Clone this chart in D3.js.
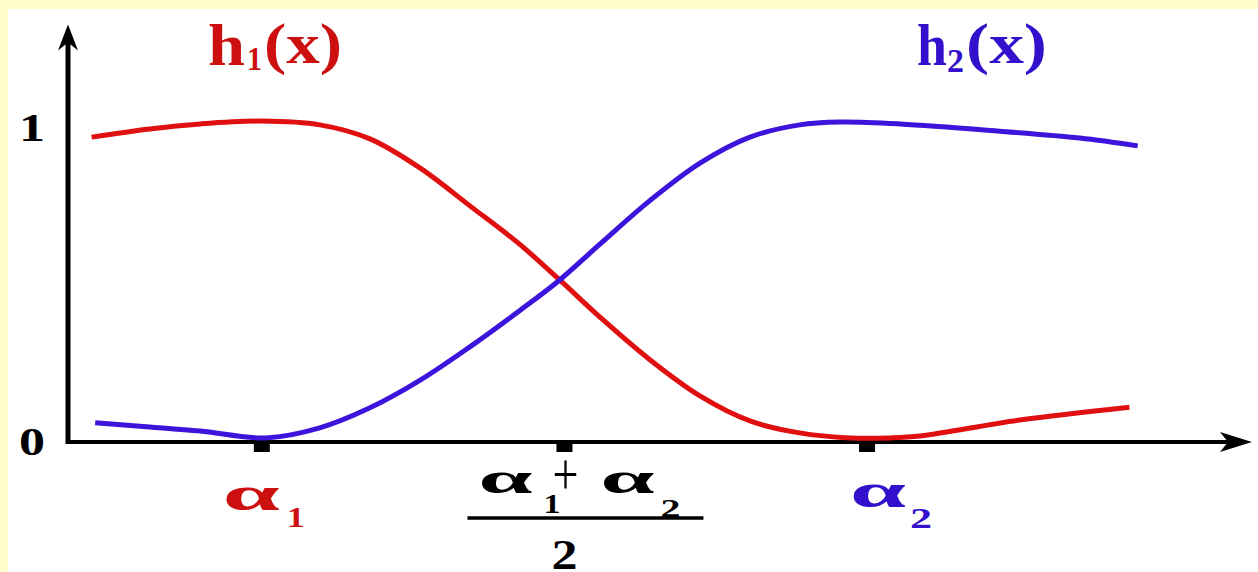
<!DOCTYPE html>
<html>
<head>
<meta charset="utf-8">
<script src="https://cdn.jsdelivr.net/npm/d3@7"></script>
<style>
  html, body { margin: 0; padding: 0; background: #ffffcc; }
  svg { display: block; }
</style>
</head>
<body>
<svg id="chart" width="1258" height="572"></svg>
<script>
// ---------------- data ----------------
const xDomain = [0, 100];
const yDomain = [0, 1];
const yTickValues = [0, 1];
const yTickLabels = ["0", "1"];
const tickAlpha1 = 16.4;
const tickMid = 42.0;
const tickAlpha2 = 67.6;
const xTickValues = [tickAlpha1, tickMid, tickAlpha2];

const h1X = [2.0, 6.9, 11.2, 16.4, 21.3, 25.5, 29.8, 34.0, 38.2, 41.6, 45.0, 49.2, 53.5, 57.7, 61.9, 66.2, 69.5, 72.1, 80.5, 89.8];
const h1Y = [0.971, 0.997, 1.013, 1.022, 1.010, 0.966, 0.872, 0.752, 0.630, 0.516, 0.398, 0.263, 0.146, 0.067, 0.029, 0.013, 0.013, 0.019, 0.070, 0.111];

const h2X = [2.3, 6.9, 11.2, 16.7, 21.3, 25.5, 29.8, 34.0, 38.2, 41.6, 45.0, 49.2, 53.5, 57.7, 61.9, 65.3, 70.4, 78.8, 85.6, 90.5];
const h2Y = [0.061, 0.048, 0.035, 0.013, 0.045, 0.108, 0.197, 0.303, 0.418, 0.516, 0.630, 0.768, 0.889, 0.971, 1.010, 1.019, 1.013, 0.990, 0.968, 0.943];

// ---------------- setup ----------------
const W = 1258, H = 572;
const svg = d3.select("#chart");
const FONT = "'Liberation Serif', 'DejaVu Serif', serif";
const RED_LINE = "#e01010", BLUE_LINE = "#3c14dc";
const RED_TXT = "#cc1010", BLUE_TXT = "#3311cc";

svg.append("rect").attr("x", 0).attr("y", 0).attr("width", W).attr("height", H).attr("fill", "#ffffcc");
svg.append("rect").attr("x", 8).attr("y", 9).attr("width", W - 8).attr("height", H - 9).attr("fill", "#ffffff");

const x = d3.scaleLinear().domain(xDomain).range([68, 1250]);
const y = d3.scaleLinear().domain(yDomain).range([442, 128]);

function txt(s, px, py, size, w, color, anchor, weight) {
  const t = svg.append("text")
    .attr("x", px).attr("y", py)
    .attr("font-family", FONT).attr("font-weight", weight || "bold")
    .attr("font-size", size).attr("fill", color)
    .attr("text-anchor", anchor || "start")
    .text(s);
  if (w) t.attr("textLength", w).attr("lengthAdjust", "spacingAndGlyphs");
  return t;
}

// ---------------- axes ----------------
const x0 = x(xDomain[0]), yBase = y(0);
const xEnd = x(xDomain[1]);
const yTop = y(1.33);

svg.append("line").attr("x1", x0).attr("y1", yBase).attr("x2", xEnd - 10).attr("y2", yBase)
  .attr("stroke", "#000").attr("stroke-width", 4);
svg.append("line").attr("x1", x0).attr("y1", yBase + 2).attr("x2", x0).attr("y2", yTop + 12)
  .attr("stroke", "#000").attr("stroke-width", 5);

// arrowheads
svg.append("path")
  .attr("d", `M${xEnd + 2},${yBase} L${xEnd - 30},${yBase - 10} L${xEnd - 22},${yBase} L${xEnd - 30},${yBase + 10} Z`)
  .attr("fill", "#000");
svg.append("path")
  .attr("d", `M${x0},${yTop} L${x0 - 10},${yTop + 26} L${x0},${yTop + 18} L${x0 + 10},${yTop + 26} Z`)
  .attr("fill", "#000");

// y tick labels via d3 axis
const yAxis = d3.axisLeft(y).tickValues(yTickValues)
  .tickFormat((d, i) => yTickLabels[i]).tickSize(0).tickPadding(23);
const gy = svg.append("g").attr("transform", `translate(${x0},0)`).call(yAxis);
gy.select(".domain").remove();
gy.selectAll("text").attr("font-family", FONT).attr("font-weight", "bold")
  .attr("font-size", 40).attr("fill", "#000")
  .attr("textLength", 26).attr("lengthAdjust", "spacingAndGlyphs");

// x tick marks (small squares)
svg.selectAll("rect.tick").data(xTickValues).enter().append("rect")
  .attr("class", "tick")
  .attr("x", d => x(d) - 8).attr("y", yBase - 1)
  .attr("width", 16).attr("height", 11).attr("fill", "#000");

// ---------------- curves ----------------
const line = d3.line().x(d => x(d[0])).y(d => y(d[1])).curve(d3.curveCatmullRom.alpha(0.5));
svg.append("path").datum(h1X.map((v, i) => [v, h1Y[i]]))
  .attr("d", line).attr("fill", "none").attr("stroke", RED_LINE)
  .attr("stroke-width", 5).attr("stroke-linejoin", "round");
svg.append("path").datum(h2X.map((v, i) => [v, h2Y[i]]))
  .attr("d", line).attr("fill", "none").attr("stroke", BLUE_LINE)
  .attr("stroke-width", 5).attr("stroke-linejoin", "round");

// ---------------- x tick labels ----------------
const a1 = x(tickAlpha1);
txt("α", a1 - 39, 510, 48, 57, RED_TXT);
txt("1", a1 + 25, 527, 30, 18, RED_TXT);

const m = x(tickMid);
txt("α", m - 86, 493, 44, 54, "#000");
txt("1", m - 21, 513, 28, 17, "#000");
txt("+", m + 1, 494, 60, 26, "#000", "middle", "normal");
txt("α", m + 36, 493, 44, 54, "#000");
txt("2", m + 96, 517, 26, 20, "#000");
svg.append("line").attr("x1", m - 97).attr("x2", m + 139).attr("y1", 518).attr("y2", 518)
  .attr("stroke", "#000").attr("stroke-width", 3.5);
txt("2", m, 569, 42, 26, "#000", "middle");

const a2 = x(tickAlpha2);
txt("α", a2 - 17, 507, 48, 56, BLUE_TXT);
txt("2", a2 + 43, 528, 30, 22, BLUE_TXT);

// ---------------- series titles ----------------
txt("h", 208, 65, 60, 37, RED_TXT);
txt("1", 247, 70, 34, 15, RED_TXT);
txt("(x)", 264, 63, 56, 78, RED_TXT);

txt("h", 917, 65, 60, 30, BLUE_TXT);
txt("2", 947, 72, 34, 17, BLUE_TXT);
txt("(x)", 966, 63, 56, 81, BLUE_TXT);
</script>
</body>
</html>
